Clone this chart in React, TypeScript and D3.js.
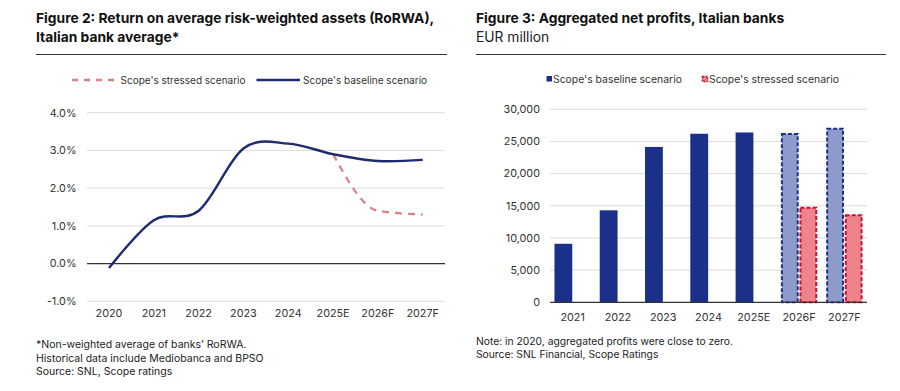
import React from "react";
import * as d3 from "d3";

const years = ["2020", "2021", "2022", "2023", "2024", "2025E", "2026F", "2027F"];
const baselineRorwa = [-0.12, 1.15, 1.4, 3.05, 3.18, 2.9, 2.72, 2.75];
const stressedYears = ["2025E", "2026F", "2027F"];
const stressedRorwa = [2.9, 1.4, 1.3];
const rorwaTicks = [-1, 0, 1, 2, 3, 4];

const profitYears = ["2021", "2022", "2023", "2024", "2025E", "2026F", "2027F"];
const baselineProfits = [9100, 14300, 24150, 26200, 26400, 26300, 27150];
const stressedProfits = [null, null, null, null, null, 14850, 13700];
const forecastFlags = [false, false, false, false, false, true, true];
const profitTicks = [0, 5000, 10000, 15000, 20000, 25000, 30000];

const FONT = "Inter, 'Noto Sans', sans-serif";
const NAVY = "#1f2b6e";
const BAR = "#1b3088";
const LIGHT = "#8d9acb";
const PINK = "#ee838b";
const RED = "#c8102e";
const DASHPINK = "#d9828a";
const GRID = "#dcdcdc";
const TXT = "#333";
const TICK = 10.8;

export default function App() {
  // Left chart
  const xL = d3.scalePoint<string>().domain(years).range([109, 422.7]);
  const yL = d3.scaleLinear().domain([-1, 4]).range([301.3, 112.7]);
  const lineBase = d3
    .line<[string, number]>()
    .x((d) => xL(d[0]) as number)
    .y((d) => yL(d[1]))
    .curve(d3.curveCardinal.tension(0));
  const lineStress = d3
    .line<[string, number]>()
    .x((d) => xL(d[0]) as number)
    .y((d) => yL(d[1]))
    .curve(d3.curveMonotoneX);
  const basePath = lineBase(years.map((y, i) => [y, baselineRorwa[i]]) as [string, number][]);
  const stressPath = lineStress(stressedYears.map((y, i) => [y, stressedRorwa[i]]) as [string, number][]);

  // Right chart
  const xR = d3.scaleBand<string>().domain(profitYears).range([550, 867]);
  const xSub = d3
    .scaleBand<string>()
    .domain(["base", "stress"])
    .range([0, xR.bandwidth()])
    .paddingInner(0.04)
    .paddingOuter(0.24);
  const yR = d3.scaleLinear().domain([0, 30000]).range([302.3, 109.3]);
  const fmt = d3.format(",");
  const bw = xSub.bandwidth();

  return (
    <svg
      width={900}
      height={391}
      style={{ position: "absolute", left: 0, top: 0, background: "#fff" }}
      fontFamily={FONT}
    >
      <rect width={900} height={391} fill="#fff" />
      {/* Left titles */}
      <text x={36} y={23} fontSize={13.8} fontWeight={700} fill="#111">
        Figure 2: Return on average risk-weighted assets (RoRWA),
      </text>
      <text x={36} y={42} fontSize={13.8} fontWeight={700} fill="#111">
        Italian bank average*
      </text>
      <line x1={36} x2={447} y1={54.5} y2={54.5} stroke="#333" strokeWidth={1} />

      {/* Left legend */}
      <line x1={72} x2={114} y1={80} y2={80} stroke={DASHPINK} strokeWidth={2.5} strokeDasharray="6,6" />
      <text x={120.5} y={83.5} fontSize={10} fill={TXT}>
        Scope's stressed scenario
      </text>
      <line x1={256.5} x2={300} y1={80} y2={80} stroke={NAVY} strokeWidth={2.5} />
      <text x={303} y={83.5} fontSize={10} fill={TXT}>
        Scope's baseline scenario
      </text>

      {/* Left grid */}
      {rorwaTicks.map((t) => (
        <g key={t}>
          <line
            x1={87}
            x2={445}
            y1={yL(t)}
            y2={yL(t)}
            stroke={t === 0 ? "#333" : GRID}
            strokeWidth={t === 0 ? 1.3 : 1}
          />
          <text x={76.5} y={yL(t) + 3.8} fontSize={TICK} textAnchor="end" fill={TXT}>
            {t.toFixed(1) + "%"}
          </text>
        </g>
      ))}
      {years.map((y) => (
        <text key={y} x={xL(y)} y={317} fontSize={TICK} textAnchor="middle" fill={TXT}>
          {y}
        </text>
      ))}
      <path d={stressPath || ""} fill="none" stroke={DASHPINK} strokeWidth={2.2} strokeDasharray="7,6" />
      <path d={basePath || ""} fill="none" stroke={NAVY} strokeWidth={2.4} />

      {/* Left footnotes */}
      <text x={36} y={348} fontSize={10.5} fill="#222">
        *Non-weighted average of banks’ RoRWA.
      </text>
      <text x={36} y={361.5} fontSize={10.5} fill="#222">
        Historical data include Mediobanca and BPSO
      </text>
      <text x={36} y={375} fontSize={10.5} fill="#222">
        Source: SNL, Scope ratings
      </text>

      {/* Right titles */}
      <text x={476} y={23} fontSize={13.8} fontWeight={700} fill="#111">
        Figure 3: Aggregated net profits, Italian banks
      </text>
      <text x={476} y={42} fontSize={13.8} fill="#222">
        EUR million
      </text>
      <line x1={476} x2={886} y1={54.5} y2={54.5} stroke="#333" strokeWidth={1} />

      {/* Right legend */}
      <rect x={546.5} y={76} width={5.5} height={5.5} fill={BAR} />
      <text x={553} y={82.5} fontSize={10.4} fill={TXT}>
        Scope's baseline scenario
      </text>
      <rect x={702.5} y={76.5} width={5} height={5} fill={PINK} stroke={RED} strokeWidth={1.5} strokeDasharray="2,1" />
      <text x={709} y={82.5} fontSize={10.4} fill={TXT}>
        Scope's stressed scenario
      </text>

      {/* Right grid */}
      {profitTicks.map((t) =>
        t === 0 ? null : (
          <line key={t} x1={550} x2={867} y1={yR(t)} y2={yR(t)} stroke={GRID} strokeWidth={1} />
        )
      )}
      {profitTicks.map((t) => (
        <text key={"l" + t} x={540} y={yR(t) + 3.8} fontSize={TICK} textAnchor="end" fill={TXT}>
          {fmt(t)}
        </text>
      ))}

      {/* Bars */}
      {profitYears.map((c, i) => {
        const x0 = (xR(c) as number) + (xSub("base") as number);
        const x1 = (xR(c) as number) + (xSub("stress") as number);
        const v = baselineProfits[i];
        const s = stressedProfits[i];
        const f = forecastFlags[i];
        return (
          <g key={c}>
            {f ? (
              <rect
                x={x0 + 1}
                y={yR(v) + 1}
                width={bw - 2}
                height={yR(0) - yR(v) - 1}
                fill={LIGHT}
                stroke={BAR}
                strokeWidth={2}
                strokeDasharray="4,2"
              />
            ) : (
              <rect x={x0} y={yR(v)} width={bw} height={yR(0) - yR(v)} fill={BAR} />
            )}
            {s != null && (
              <rect
                x={x1 + 1}
                y={yR(s) + 1}
                width={bw - 2}
                height={yR(0) - yR(s) - 1}
                fill={PINK}
                stroke={RED}
                strokeWidth={2}
                strokeDasharray="4,2"
              />
            )}
          </g>
        );
      })}
      <line x1={550} x2={867} y1={yR(0)} y2={yR(0)} stroke="#333" strokeWidth={1.3} />
      {profitYears.map((c) => (
        <text
          key={"x" + c}
          x={(xR(c) as number) + xR.bandwidth() / 2}
          y={320.5}
          fontSize={TICK}
          textAnchor="middle"
          fill={TXT}
        >
          {c}
        </text>
      ))}

      {/* Right footnotes */}
      <text x={476} y={344.5} fontSize={10.3} fill="#222">
        Note: in 2020, aggregated profits were close to zero.
      </text>
      <text x={476} y={358} fontSize={10.3} fill="#222">
        Source: SNL Financial, Scope Ratings
      </text>
    </svg>
  );
}
